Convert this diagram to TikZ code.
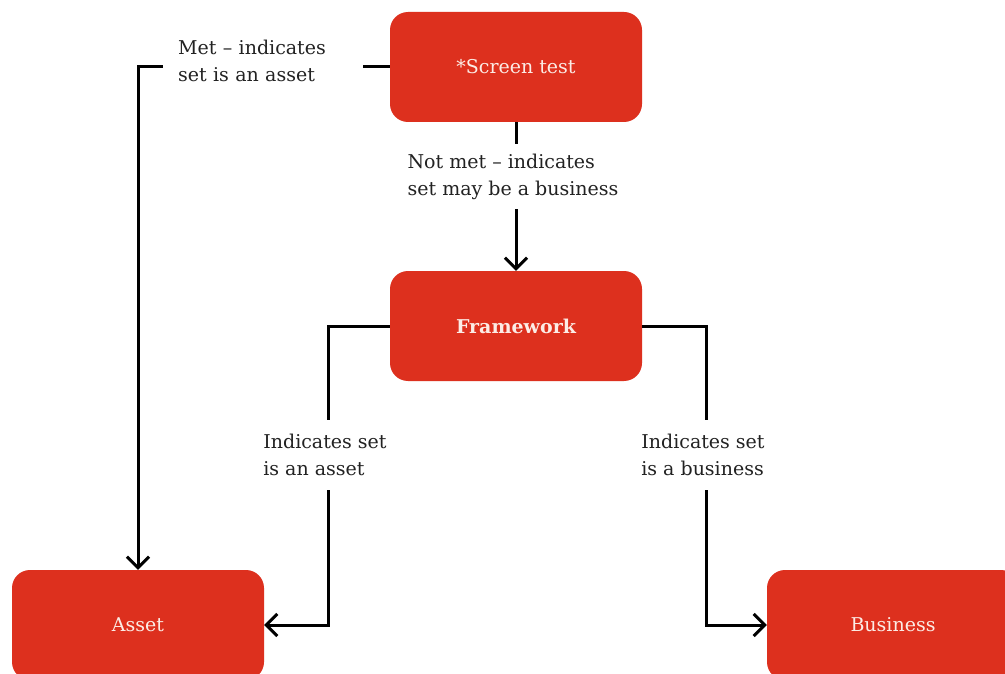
\documentclass[tikz,border=0pt]{standalone}
\usepackage{fontspec}
\setmainfont{DejaVu Serif}
\usetikzlibrary{arrows.meta}
\definecolor{boxred}{RGB}{221,48,30}
\definecolor{boxtext}{RGB}{252,236,230}
\definecolor{ink}{RGB}{34,34,34}
\tikzset{
  redbox/.style={draw=none, fill=boxred, rounded corners=18pt, minimum width=252pt,
    minimum height=110pt, text=boxtext, font=\fontsize{19}{23}\selectfont},
  conn/.style={draw=black, line width=3pt},
  arr/.style={conn, -{Straight Barb[length=11pt,width=22pt,line width=3pt]}},
  lbl/.style={fill=white, text=ink, align=left, font=\fontsize{19}{27}\selectfont, inner sep=0pt}
}
\begin{document}
\begin{tikzpicture}[x=1pt,y=-1pt]
\useasboundingbox[fill=white] (0,0) rectangle (1005,674);
\node[redbox] (screen) at (516,67) {*Screen test};
\node[redbox] (frame) at (516,326) {\bfseries Framework};
\node[redbox] (asset) at (138,625) {Asset};
\node[redbox] (bus) at (893,625) {Business};
\coordinate (c1) at (328,625);
\coordinate (c2) at (706,625);
\draw[arr] (screen.west) -| (asset.north);
\draw[arr] (screen.south) -- (frame.north);
\draw[arr] (frame.west) -| (c1) -- (asset.east);
\draw[arr] (frame.east) -| (c2) -- (bus.west);
\node[lbl, text width=170pt, minimum width=200pt, minimum height=50pt, anchor=west, inner xsep=15pt] (met) at (163,61) {Met -- indicates\\set is an asset};
\node[lbl, minimum height=65pt, inner xsep=6pt] (notmet) at (513,177) {Not met -- indicates\\set may be a business};
\node[lbl, minimum height=70pt, inner xsep=6pt] (isasset) at (325,455) {Indicates set\\is an asset};
\node[lbl, minimum height=70pt, inner xsep=6pt] (isbus) at (703,455) {Indicates set\\is a business};
\end{tikzpicture}
\end{document}
